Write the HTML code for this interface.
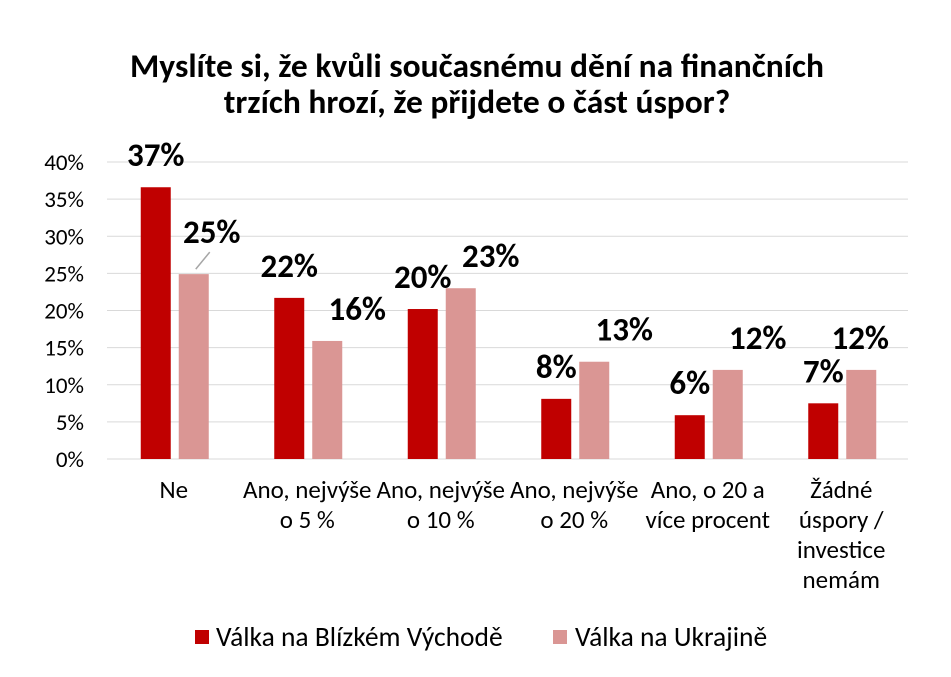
<!DOCTYPE html>
<html><head><meta charset="utf-8"><style>
body{margin:0;background:#fff;font-family:"Liberation Sans",Arial,sans-serif}
svg text{font-family:"Carlito","Liberation Sans",Arial,sans-serif}
</style></head><body>
<svg id="chart" width="951" height="672" xmlns="http://www.w3.org/2000/svg">
<rect width="951" height="672" fill="#fff"/>
<text x="477" y="77" font-size="33.5" font-weight="bold" text-anchor="middle" fill="#000">Myslíte si, že kvůli současnému dění na finančních</text>
<text x="477" y="113" font-size="33.5" font-weight="bold" text-anchor="middle" fill="#000">trzích hrozí, že přijdete o část úspor?</text>
<g id="grid"></g><g id="bars"></g><g id="labels"></g><g id="cats"></g>
<g>
<rect x="195" y="630" width="14" height="14" fill="#C00000"/>
<text x="216" y="646" font-size="27.5" fill="#000">Válka na Blízkém Východě</text>
<rect x="553" y="630" width="14" height="14" fill="#DA9694"/>
<text x="575" y="646" font-size="27.5" fill="#000">Válka na Ukrajině</text>
</g>
</svg>
<script>
const categories=[["Ne"],["Ano, nejvýše","o 5 %"],["Ano, nejvýše","o 10 %"],["Ano, nejvýše","o 20 %"],["Ano, o 20 a","více procent"],["Žádné","úspory /","investice","nemám"]];
const seriesMiddleEast=[36.6,21.7,20.2,8.1,5.9,7.5];
const seriesUkraine=[24.9,15.9,23.0,13.1,12.0,12.0];
const labelsMiddleEast=["37%","22%","20%","8%","6%","7%"];
const labelsUkraine=["25%","16%","23%","13%","12%","12%"];
const yTicks=[0,5,10,15,20,25,30,35,40];
const NS="http://www.w3.org/2000/svg";
const L=107,R=908,Y0=459,Y40=162;
const y=v=>Y0-(v/40)*(Y0-Y40);
const xc=i=>L+(R-L)/categories.length*(i+0.5);
function mk(t,a,p,txt){const e=document.createElementNS(NS,t);for(const k in a)e.setAttribute(k,a[k]);if(txt!=null)e.textContent=txt;p.appendChild(e);return e;}
const g=document.getElementById('grid'),b=document.getElementById('bars'),lb=document.getElementById('labels'),c=document.getElementById('cats');
yTicks.forEach(t=>{
 const ln=mk('line',{x1:L,x2:R,y1:y(t),y2:y(t),stroke:'#D9D9D9','stroke-width':1},g);
 
 
 const tx=mk('text',{x:84,y:y(t)+8,'font-size':23,'text-anchor':'end',fill:'#000'},g,t+'%');
 
 
});
categories.forEach((cat,i)=>{
 const cx=xc(i);
 const r=mk('rect',{x:cx-33,y:y(seriesMiddleEast[i]),width:30,height:Y0-y(seriesMiddleEast[i]),fill:'#C00000'},b);
 
 
 const p=mk('rect',{x:cx+5,y:y(seriesUkraine[i]),width:30,height:Y0-y(seriesUkraine[i]),fill:'#DA9694'},b);
 
 
 const t1=mk('text',{x:cx-18,y:y(seriesMiddleEast[i])-21,'font-size':33,'font-weight':'bold','text-anchor':'middle',fill:'#000'},lb,labelsMiddleEast[i]);
 
 
 let px=cx+50,py=y(seriesUkraine[i])-21;
 if(i===categories.length-1){px=cx+19;}
 if(i===0){px=cx+38;py=y(seriesUkraine[i])-31;
  const ll=mk('line',{x1:cx+22,y1:y(seriesUkraine[i])-5,x2:cx+36,y2:y(seriesUkraine[i])-22,stroke:'#A6A6A6','stroke-width':1.5},lb);
  
  }
 const t2=mk('text',{x:px,y:py,'font-size':33,'font-weight':'bold','text-anchor':'middle',fill:'#000'},lb,labelsUkraine[i]);
 
 
 cat.forEach((line,j)=>{
  const ct=mk('text',{x:cx,y:498+j*30,'font-size':25,'text-anchor':'middle',fill:'#000'},c,line);
  
  
 });
});
</script>
</body></html>
